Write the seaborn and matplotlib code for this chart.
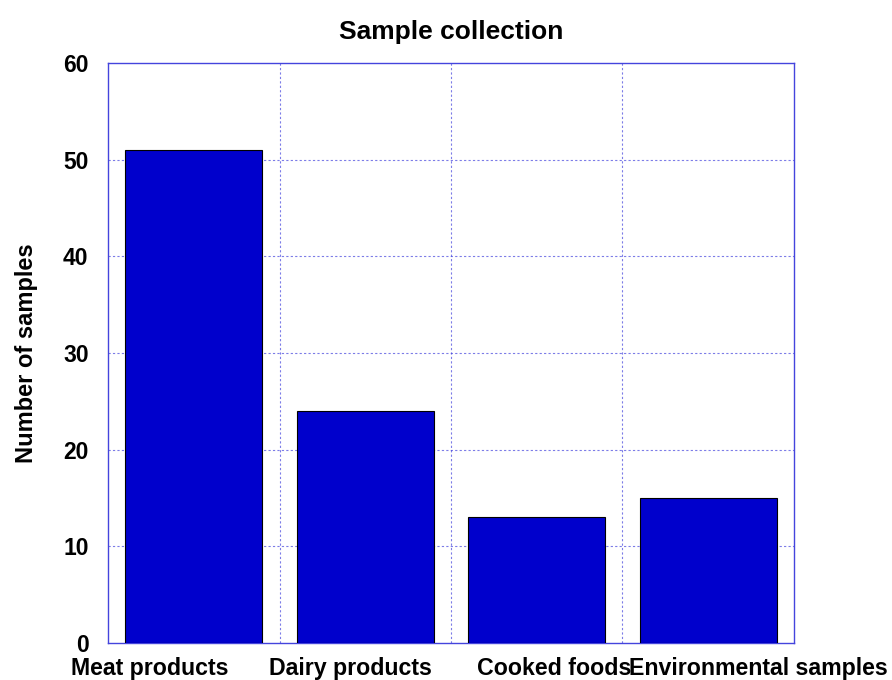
import matplotlib
matplotlib.use("Agg")
import matplotlib.pyplot as plt
import pandas as pd
import seaborn as sns

categories = ["Meat products", "Dairy products", "Cooked foods", "Environmental samples"]
counts = [51, 24, 13, 15]
y_ticks = [0, 10, 20, 30, 40, 50, 60]

sns.set_style("white")
plt.rcParams["font.family"] = ["Liberation Sans", "DejaVu Sans"]
plt.rcParams["font.weight"] = "bold"
plt.rcParams["text.color"] = "black"
plt.rcParams["axes.labelcolor"] = "black"
plt.rcParams["ytick.color"] = "black"

df = pd.DataFrame({"category": categories, "count": counts})

fig = plt.figure(figsize=(8.92, 6.8), dpi=100)
ax = fig.add_axes([0.1211, 0.0544, 0.7690, 0.8530])

sns.barplot(data=df, x="category", y="count", color="#0000CC", saturation=1,
            edgecolor="black", linewidth=0.8, width=0.8, ax=ax, zorder=3)

ax.set_xlim(-0.5, len(categories) - 0.5)
ax.set_ylim(0, 60)
ax.set_yticks(y_ticks)
ax.set_yticklabels([str(v) for v in y_ticks], fontsize=16.5, fontweight="bold", color="black")

# category labels sit below the axis, roughly where gnuplot put them
ax.set_xticks([])
label_x = [-0.255, 0.911, 2.100, 3.290]
for x, name in zip(label_x, categories):
    ax.text(x, -1.4, name, ha="center", va="top", fontsize=16.7,
            fontweight="bold", color="black", clip_on=False)

# grid between categories and at y ticks
grid_kw = dict(color="#4444dd", linestyle=(0, (2, 2)), linewidth=0.8, alpha=0.7, zorder=1)
for gx in [0.5, 1.5, 2.5]:
    ax.axvline(gx, **grid_kw)
for gy in y_ticks[1:-1]:
    ax.axhline(gy, **grid_kw)

for side in ["left", "right", "top", "bottom"]:
    ax.spines[side].set_color("#4444dd")
    ax.spines[side].set_linestyle((0, (2, 1)))
    ax.spines[side].set_linewidth(1.0)

ax.tick_params(axis="y", length=0, pad=14)
ax.set_xlabel("")
ax.set_ylabel("Number of samples", fontsize=17, fontweight="bold", labelpad=18, color="black")
ax.set_title("Sample collection", fontsize=19, fontweight="bold", pad=17, color="black")

fig.savefig("out.png", dpi=100)
